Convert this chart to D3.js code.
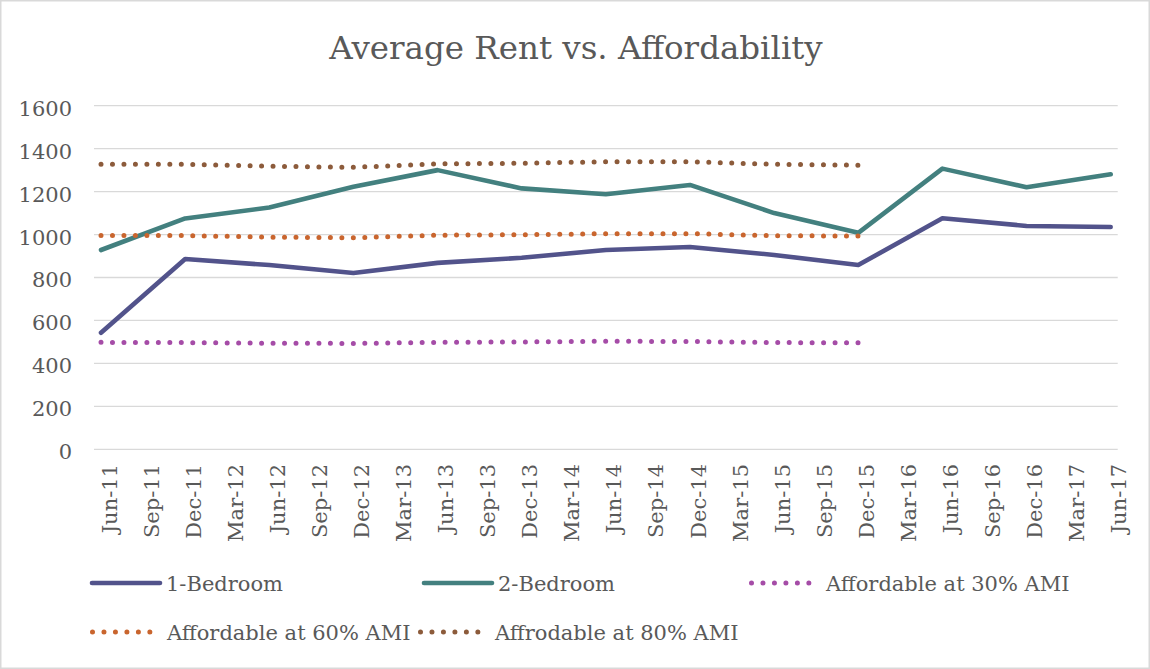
<!DOCTYPE html>
<html>
<head>
<meta charset="utf-8">
<script src="https://cdn.jsdelivr.net/npm/d3@7"></script>
<style>
  html, body { margin: 0; padding: 0; background: #fff; }
  svg { display: block; }
  text { font-family: "DejaVu Serif", "Liberation Serif", serif; fill: #595959; }
</style>
</head>
<body>
<svg id="chart" width="1150" height="669"></svg>
<script>
// Quarterly axis labels
const quarterLabels = [
  "Jun-11","Sep-11","Dec-11","Mar-12","Jun-12","Sep-12","Dec-12","Mar-13",
  "Jun-13","Sep-13","Dec-13","Mar-14","Jun-14","Sep-14","Dec-14","Mar-15",
  "Jun-15","Sep-15","Dec-15","Mar-16","Jun-16","Sep-16","Dec-16","Mar-17","Jun-17"
];

// Semiannual survey dates for rents
const rentDates = [
  "Jun-11","Dec-11","Jun-12","Dec-12","Jun-13","Dec-13","Jun-14",
  "Dec-14","Jun-15","Dec-15","Jun-16","Dec-16","Jun-17"
];
const oneBedroom = [543, 886, 858, 821, 868, 892, 928, 942, 905, 858, 1076, 1040, 1035];
const twoBedroom = [928, 1075, 1126, 1223, 1300, 1215, 1188, 1231, 1100, 1008, 1307, 1220, 1281];

// Affordability thresholds (monthly rent) by AMI level
const amiDates = [
  "Jun-11","Dec-11","Jun-12","Dec-12","Jun-13","Dec-13","Jun-14","Dec-14","Jun-15","Dec-15"
];
const ami30 = [498, 497, 494, 493, 498, 500, 503, 502, 497, 496];
const ami60 = [995, 995, 988, 985, 997, 999, 1004, 1004, 995, 993];
const ami80 = [1327, 1327, 1318, 1313, 1329, 1332, 1339, 1339, 1327, 1323];

const yTicks = [0, 200, 400, 600, 800, 1000, 1200, 1400, 1600];

const seriesDefs = [
  { name: "1-Bedroom", dates: rentDates, values: oneBedroom, color: "#52538b", dotted: false },
  { name: "2-Bedroom", dates: rentDates, values: twoBedroom, color: "#43807f", dotted: false },
  { name: "Affordable at 30% AMI", dates: amiDates, values: ami30, color: "#a54ca7", dotted: true },
  { name: "Affordable at 60% AMI", dates: amiDates, values: ami60, color: "#c9652e", dotted: true },
  { name: "Affrodable at 80% AMI", dates: amiDates, values: ami80, color: "#8c5b3b", dotted: true }
];

const svg = d3.select("#chart");
const W = 1150, H = 669;

// outer chart frame
svg.append("rect")
  .attr("x", 0.75).attr("y", 0.75)
  .attr("width", W - 1.5).attr("height", H - 1.5)
  .attr("fill", "#fff").attr("stroke", "#d9d9d9").attr("stroke-width", 1.5);

// title
svg.append("text")
  .attr("x", 576).attr("y", 59)
  .attr("text-anchor", "middle")
  .attr("font-size", 32.5)
  .text("Average Rent vs. Affordability");

// month-based date axis
const parseMonth = d3.timeParse("%b-%y");
const start = parseMonth(quarterLabels[0]);
const monthIndex = s => d3.timeMonth.count(start, parseMonth(s));
const lastIdx = monthIndex(quarterLabels[quarterLabels.length - 1]);

const x = d3.scaleLinear().domain([-0.5, lastIdx + 0.5]).range([94, 1117.7]);
const y = d3.scaleLinear().domain([0, 1600]).range([449.3, 105.7]);

// gridlines
svg.append("g")
  .selectAll("line")
  .data(yTicks)
  .join("line")
  .attr("x1", x.range()[0]).attr("x2", x.range()[1])
  .attr("y1", d => y(d)).attr("y2", d => y(d))
  .attr("stroke", "#d9d9d9").attr("stroke-width", 1.3);

// y axis labels
const yAxis = d3.axisLeft(y).tickValues(yTicks).tickSize(0).tickPadding(0).tickFormat(d3.format("d"));
const gy = svg.append("g").attr("transform", "translate(72,0)").call(yAxis);
gy.select(".domain").remove();
gy.selectAll("text")
  .attr("font-size", 21)
  .attr("font-family", "DejaVu Serif, serif")
  .attr("fill", "#595959")
  .attr("dy", "0.45em");

// x axis labels (rotated)
svg.append("g")
  .selectAll("text")
  .data(quarterLabels)
  .join("text")
  .attr("transform", d => `translate(${x(monthIndex(d)) + 8},464) rotate(-90)`)
  .attr("text-anchor", "end")
  .attr("dy", "0.36em")
  .attr("font-size", 21)
  .text(d => d);

// series lines
const line = d3.line().x(d => x(d.m)).y(d => y(d.v));
const DOT = "0 11.47";

seriesDefs.forEach(s => {
  const pts = s.dates.map((dt, i) => ({ m: monthIndex(dt), v: s.values[i] }));
  svg.append("path")
    .datum(pts)
    .attr("d", line)
    .attr("fill", "none")
    .attr("stroke", s.color)
    .attr("stroke-width", s.dotted ? 5 : 4.6)
    .attr("stroke-linecap", "round")
    .attr("stroke-linejoin", "round")
    .attr("stroke-dasharray", s.dotted ? DOT : null);
});

// legend
const legendPos = [
  { x: 90, y: 583 }, { x: 422, y: 583 }, { x: 750, y: 583 },
  { x: 91, y: 632 }, { x: 419, y: 632 }
];
const lg = svg.append("g");
seriesDefs.forEach((s, i) => {
  const p = legendPos[i];
  const g = lg.append("g").attr("transform", `translate(${p.x},${p.y})`);
  g.append("line")
    .attr("x1", s.dotted ? 1.5 : 2).attr("x2", s.dotted ? 61 : 70)
    .attr("y1", 0).attr("y2", 0)
    .attr("stroke", s.color)
    .attr("stroke-width", s.dotted ? 5 : 4.6)
    .attr("stroke-linecap", "round")
    .attr("stroke-dasharray", s.dotted ? DOT : null);
  g.append("text")
    .attr("x", 76).attr("y", 0)
    .attr("dy", "0.36em")
    .attr("font-size", 21)
    .text(s.name);
});
</script>
</body>
</html>
